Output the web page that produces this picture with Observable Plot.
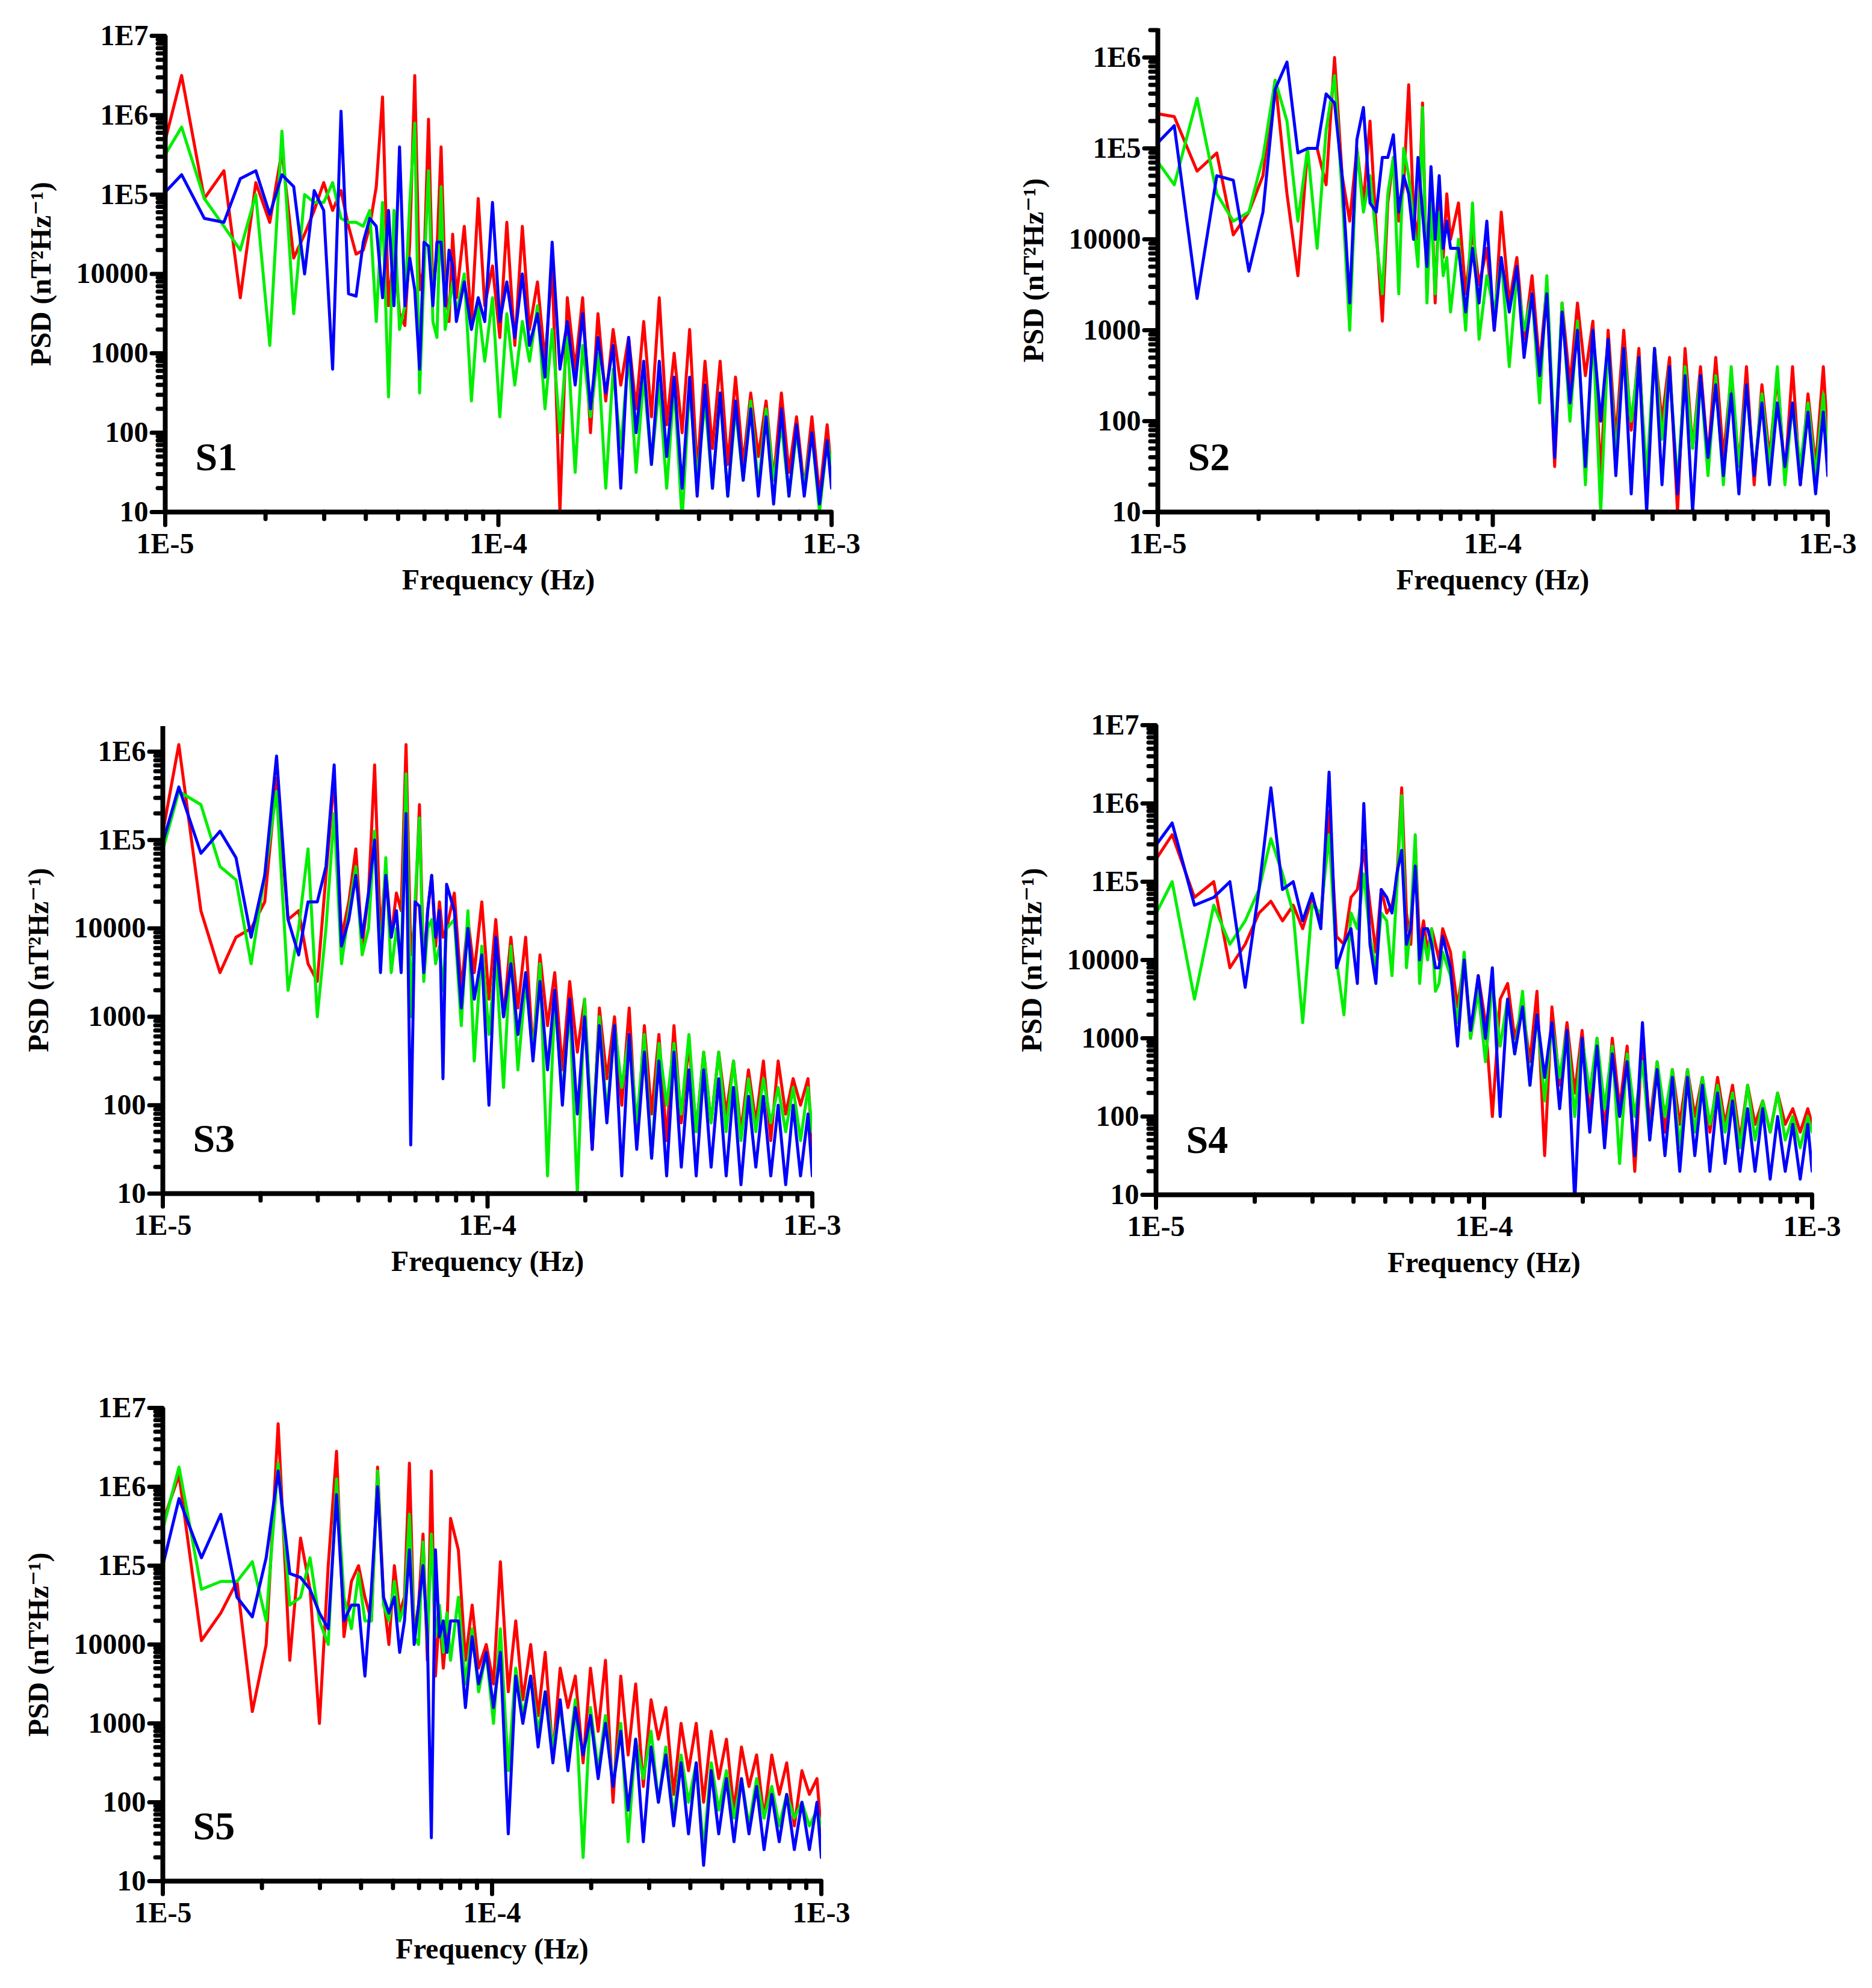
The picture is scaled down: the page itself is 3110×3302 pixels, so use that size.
<!DOCTYPE html>
<html><head><meta charset="utf-8">
<script src="https://cdn.jsdelivr.net/npm/d3@7"></script>
<script src="https://cdn.jsdelivr.net/npm/@observablehq/plot@0.6"></script>
<style>
  body { margin: 0; background: #fff; }
  #wrap { position: relative; width: 3110px; height: 3302px; background: #fff; }
  #wrap svg { position: absolute; }
</style></head>
<body><div id="wrap"></div>
<script>
"use strict";
// frequencies, units of 1e-5 Hz
const FREQ = [0.935,1.12,1.31,1.50,1.68,1.87,2.06,2.24,2.43,2.62,2.80,2.99,3.18,3.37,3.55,3.74,3.93,4.11,4.30,4.49,4.68,4.86,5.05,5.24,5.42,5.61,5.80,5.98,6.17,6.36,6.54,6.73,6.92,7.11,7.29,7.48,
  7.9,8.3,8.7,9.1,9.6,10.1,10.6,11.2,11.8,12.4,13.1,13.8,14.5,15.3,16.1,17,17.9,18.9,19.9,21,22.1,23.3,24.6,25.9,27.3,28.8,30.4,32,33.7,35.6,37.5,39.5,41.7,43.9,46.3,48.8,51.5,54.3,57.2,60.3,63.6,67,70.7,74.5,78.5,82.8,87.3,92,97,100];

// log10 PSD values, [red, green, blue]
const S1_RED = [5.2,6.5,4.95,5.3,3.7,5.15,4.65,5.55,4.2,4.5,4.8,5.15,4.8,5.05,4.6,4.25,4.3,4.6,5.1,6.23,3.6,4.3,3.5,3.35,4.4,6.5,3.8,4.1,5.95,3.7,4.3,5.6,3.9,3.4,4.5,3.7,
  4.6,3.4,4.95,3.6,4.1,3.2,4.65,3.1,4.6,3.3,3.9,2.9,4.1,1.0,3.7,2.8,3.7,2.0,3.5,2.4,3.3,2.6,3.2,2.3,3.4,2.2,3.7,2.1,3.0,2.0,3.3,1.5,2.9,1.8,2.9,1.6,2.7,1.6,2.5,1.7,2.4,1.4,2.5,1.5,2.2,1.3,2.2,1.2,2.1,1.5];
const S1_GREEN = [5.3,5.85,4.95,4.6,4.3,5.0,3.1,5.8,3.5,5.0,4.9,4.9,5.15,4.7,4.65,4.65,4.6,4.8,3.4,4.9,2.45,4.8,3.3,3.6,4.9,5.9,2.5,4.0,5.3,3.4,3.2,5.1,3.3,3.6,3.9,3.5,
  4.0,2.4,3.6,2.9,3.7,2.2,3.5,2.6,3.4,2.9,3.6,2.3,3.3,2.0,3.2,1.5,3.1,2.2,3.0,1.3,2.8,1.8,3.0,1.5,2.7,1.6,2.6,1.3,2.6,0.9,2.6,1.4,2.4,1.3,2.5,1.2,2.3,1.4,2.4,1.3,2.3,1.4,2.1,1.2,2.0,1.3,2.0,1.0,1.9,1.6];
const S1_BLUE = [4.9,5.25,4.7,4.65,5.2,5.3,4.75,5.25,5.1,4.0,5.05,4.8,2.8,6.05,3.75,3.72,4.4,4.7,4.6,3.7,4.8,3.6,5.6,3.6,4.2,3.8,2.8,4.4,4.35,3.6,4.4,4.4,3.6,4.3,4.1,3.4,
  3.9,3.3,3.7,3.4,4.9,3.4,3.9,3.2,4.0,3.1,3.5,2.7,4.4,2.8,3.4,2.6,3.5,2.3,3.2,2.5,3.1,1.3,3.2,2.0,2.9,1.6,2.9,1.7,2.7,1.3,2.7,1.2,2.6,1.3,2.5,1.2,2.4,1.4,2.3,1.2,2.2,1.1,2.3,1.2,2.1,1.2,2.0,1.1,1.9,1.3];

const S2_RED = [5.4,5.35,4.75,4.95,4.05,4.3,4.7,5.75,4.5,3.6,5.0,5.0,4.6,6.0,4.7,4.2,5.0,4.4,5.3,4.1,3.1,4.4,4.9,4.2,4.6,5.7,4.3,4.0,5.5,3.4,4.7,3.3,4.5,3.8,4.5,4.0,
  4.4,3.4,4.1,3.5,3.9,3.0,4.3,3.3,3.8,2.9,3.6,2.6,3.5,1.5,3.3,2.4,3.3,2.5,3.1,1.4,3.0,1.8,3.0,1.9,2.8,1.2,2.8,2.0,2.7,1.0,2.8,1.7,2.6,1.6,2.7,1.6,2.5,1.5,2.6,1.3,2.4,1.6,2.5,1.4,2.6,1.3,2.3,1.5,2.6,1.8];
const S2_GREEN = [5.0,4.6,5.55,4.5,4.2,4.3,4.9,5.75,5.3,4.2,5.0,3.9,5.2,5.8,4.5,3.0,5.0,4.3,4.7,4.0,3.4,4.5,4.9,3.4,5.0,4.7,4.2,3.7,5.45,3.3,4.4,3.4,4.3,3.6,3.8,3.2,
  4.0,3.0,4.4,2.9,3.6,3.2,3.8,2.6,3.6,3.0,3.4,2.2,3.6,1.7,3.3,2.0,3.1,1.3,3.0,1.0,2.9,1.6,2.8,2.0,2.7,1.4,2.8,1.8,2.6,1.3,2.6,1.7,2.5,1.4,2.5,1.3,2.6,1.5,2.4,1.4,2.3,1.5,2.6,1.3,2.2,1.5,2.2,1.4,2.3,1.6];
const S2_BLUE = [4.95,5.25,3.35,4.7,4.65,3.65,4.3,5.65,5.95,4.95,5.0,5.0,5.6,5.5,4.7,3.3,5.1,5.45,4.4,4.3,4.9,4.9,5.15,4.3,4.7,4.5,4.0,4.9,4.3,3.7,4.8,4.0,4.7,3.9,4.2,3.9,
  3.9,3.2,3.9,3.3,4.2,3.0,3.8,3.2,3.7,2.7,3.4,2.5,3.4,1.6,3.2,2.2,3.0,1.5,3.0,2.0,2.9,1.4,2.8,1.2,2.7,1.0,2.8,1.3,2.6,1.2,2.5,1.0,2.5,1.6,2.4,1.4,2.3,1.2,2.4,1.4,2.2,1.3,2.2,1.5,2.2,1.3,2.1,1.2,2.1,1.4];

const S3_RED = [4.5,6.08,4.2,3.5,3.9,4.0,4.3,5.7,4.1,4.2,3.6,3.4,4.6,5.7,3.9,4.3,4.9,3.8,4.4,5.85,3.9,4.7,3.9,4.4,4.2,6.08,3.7,4.1,5.4,3.5,4.2,4.6,3.8,4.3,3.9,4.0,
  4.4,3.3,4.1,3.5,4.3,3.2,4.1,3.0,3.9,3.1,3.9,2.6,3.7,2.9,3.5,2.4,3.4,2.6,3.2,1.5,3.1,2.3,3.0,2.0,3.1,1.6,2.9,1.9,2.8,1.6,2.9,1.8,2.7,1.7,2.6,1.8,2.6,1.9,2.5,1.7,2.4,1.8,2.5,1.6,2.5,1.9,2.3,2.0,2.3,1.5];
const S3_GREEN = [4.5,5.55,5.4,4.7,4.55,3.6,4.6,5.55,3.3,4.0,4.9,3.0,4.0,5.3,3.6,4.2,4.7,3.7,4.0,5.1,3.6,4.8,3.5,4.0,3.6,5.75,3.0,4.3,5.25,3.4,4.0,4.1,3.6,3.8,3.3,4.0,
  4.1,2.9,4.2,2.5,3.8,2.8,3.7,2.2,3.8,2.4,3.4,2.6,3.6,1.2,3.2,2.1,3.1,1.0,3.2,1.6,3.0,1.9,2.9,2.2,2.8,1.8,2.8,1.4,2.7,2.0,2.7,1.9,2.8,1.7,2.6,1.8,2.6,1.7,2.5,1.6,2.3,1.7,2.3,1.8,2.2,1.7,2.2,1.6,2.2,1.7];
const S3_BLUE = [4.6,5.6,4.85,5.1,4.8,3.9,4.6,5.95,4.1,3.7,4.3,4.3,4.7,5.85,3.8,4.1,4.6,3.9,4.4,5.0,3.5,4.6,3.9,4.2,3.5,5.3,1.55,4.3,4.25,3.5,4.2,4.6,3.9,4.2,2.3,4.5,
  4.2,3.1,4.0,3.2,3.7,2.0,3.9,3.0,3.6,2.8,3.5,2.5,3.4,2.4,3.3,2.0,3.2,1.9,3.0,1.5,2.9,1.8,2.9,1.2,2.8,1.5,2.6,1.4,2.5,1.2,2.6,1.3,2.4,1.2,2.4,1.3,2.3,1.2,2.2,1.1,2.1,1.3,2.1,1.2,2.0,1.1,2.0,1.2,1.9,1.2];

const S4_RED = [5.1,5.6,4.8,5.0,3.9,4.2,4.6,4.75,4.5,4.7,4.4,4.8,4.5,5.9,4.3,4.2,4.8,4.9,5.4,4.7,4.1,4.9,4.6,4.7,5.0,6.2,4.6,4.2,5.5,4.2,4.5,4.1,4.4,4.2,4.0,4.4,
  4.1,3.4,4.0,3.0,3.8,3.2,2.0,3.5,3.7,3.0,3.4,2.7,3.6,1.5,3.4,2.4,3.2,2.3,3.1,2.0,3.0,1.8,3.0,2.1,2.9,1.3,3.0,1.9,2.7,1.8,2.6,1.9,2.6,2.0,2.5,1.8,2.5,1.9,2.4,1.7,2.4,1.9,2.2,1.8,2.3,1.9,2.1,1.8,2.1,1.9];
const S4_GREEN = [4.35,5.0,3.5,4.7,4.2,4.5,4.9,5.55,5.1,4.6,3.2,4.7,4.6,5.6,4.0,3.3,4.6,4.4,5.1,4.3,3.9,4.6,4.5,3.8,4.9,6.1,3.9,4.5,5.6,3.7,4.3,4.0,4.4,3.6,3.7,4.1,
  3.8,3.2,4.1,3.0,3.6,2.7,3.7,2.9,3.5,2.8,3.6,2.4,3.3,2.2,3.2,2.5,3.1,2.0,3.0,2.3,3.0,2.1,2.9,1.4,2.8,2.0,2.7,1.7,2.7,2.0,2.6,1.6,2.6,1.8,2.5,1.9,2.4,1.8,2.3,1.6,2.4,1.7,2.2,1.8,2.3,1.7,2.0,1.6,2.0,1.8];
const S4_BLUE = [5.3,5.75,4.7,4.8,5.0,3.65,4.9,6.2,4.9,5.0,4.5,4.85,4.4,6.4,3.9,4.2,4.4,3.7,6.0,4.2,3.7,4.9,4.8,4.6,5.1,5.4,4.2,4.4,5.2,4.0,4.4,4.4,4.2,3.9,3.9,4.3,
  3.9,2.9,4.0,3.1,3.8,3.0,3.9,2.0,3.5,2.8,3.4,2.4,3.3,2.5,3.2,2.1,3.1,0.9,3.0,1.8,2.9,1.6,2.8,2.0,2.7,1.5,3.2,1.7,2.6,1.5,2.5,1.3,2.5,1.5,2.4,1.3,2.3,1.4,2.2,1.3,2.1,1.3,2.1,1.2,2.0,1.3,1.9,1.2,1.9,1.3];

const S5_RED = [5.2,6.15,4.05,4.4,4.8,3.15,4.0,6.8,3.8,5.35,4.7,3.0,5.0,6.45,4.1,4.8,5.0,4.6,4.3,6.25,4.6,4.0,5.0,4.4,4.6,6.3,4.1,4.5,5.4,3.8,6.2,3.6,4.4,3.7,4.2,5.6,
  5.2,3.8,4.5,3.7,4.0,3.5,5.05,3.4,4.3,3.3,4.0,3.1,3.9,2.6,3.7,3.2,3.6,2.5,3.7,2.9,3.8,2.0,3.6,2.6,3.5,2.2,3.3,2.8,3.2,2.1,3.0,2.4,3.0,2.0,2.9,2.3,2.8,1.9,2.7,2.2,2.6,1.8,2.6,2.1,2.5,1.7,2.4,2.1,2.3,1.6];
const S5_GREEN = [5.0,6.25,4.7,4.8,4.8,5.05,4.3,6.3,4.5,4.6,5.1,4.3,4.0,6.1,4.6,4.2,4.9,4.3,4.3,6.2,4.5,4.3,4.8,4.3,4.5,5.65,4.1,4.0,5.3,4.0,5.4,4.1,4.5,3.9,4.4,3.8,
  4.6,3.5,4.2,3.4,3.9,3.0,4.2,2.4,3.7,3.1,3.6,2.9,3.4,2.7,3.2,2.5,3.3,1.3,3.2,2.4,3.1,2.2,3.0,1.5,2.8,2.3,2.9,2.0,2.7,1.8,2.6,2.0,2.5,1.4,2.5,1.9,2.4,1.8,2.3,1.7,2.3,1.8,2.2,1.7,2.1,1.8,2.0,1.7,1.9,1.7];
const S5_BLUE = [4.5,5.85,5.1,5.65,4.6,4.35,5.1,6.2,4.9,4.85,4.7,4.4,4.2,5.9,4.3,4.5,4.5,3.6,4.7,6.0,4.6,4.4,4.6,3.9,4.3,5.2,4.0,4.5,5.0,4.1,1.55,5.2,4.1,4.3,3.9,4.3,
  4.3,3.2,4.1,3.5,3.9,3.2,3.9,1.6,3.6,3.0,3.6,2.7,3.4,2.5,3.3,2.4,3.2,2.6,3.1,2.3,3.0,2.2,2.9,1.9,2.8,1.5,2.7,2.0,2.6,1.7,2.5,1.6,2.5,1.2,2.4,1.6,2.3,1.5,2.3,1.6,2.2,1.4,2.1,1.5,2.1,1.4,2.0,1.4,2.0,1.3];

const Y_MAJOR = [10, 100, 1000, 10000, 1e5, 1e6, 1e7];
const X_MAJOR = [1e-5, 1e-4, 1e-3];
const COLORS = ["#ff0000", "#00ee00", "#0000ff"];

// panel placement: plot frame left/top/width/height in page px, y top value
const PANELS = [
  { name: "S1", series: [S1_RED, S1_GREEN, S1_BLUE], left: 274, top: 59, w: 1107, h: 791, yTop: 1e7 },
  { name: "S2", series: [S2_RED, S2_GREEN, S2_BLUE], left: 1923, top: 47, w: 1113, h: 803, yTop: 2.08e6 },
  { name: "S3", series: [S3_RED, S3_GREEN, S3_BLUE], left: 270, top: 1206, w: 1079, h: 776, yTop: 1.93e6 },
  { name: "S4", series: [S4_RED, S4_GREEN, S4_BLUE], left: 1920, top: 1204, w: 1090, h: 780, yTop: 1e7 },
  { name: "S5", series: [S5_RED, S5_GREEN, S5_BLUE], left: 270, top: 2338, w: 1094, h: 786, yTop: 1e7 },
];

const minors = (lo, hi) => {
  const out = [];
  for (let e = Math.floor(Math.log10(lo)); e < Math.ceil(Math.log10(hi)); e++)
    for (let m = 2; m <= 9; m++) { const v = m * 10 ** e; if (v > lo && v < hi) out.push(v); }
  return out;
};
const yFmt = (d) => d >= 1e5 ? "1E" + Math.round(Math.log10(d)) : String(d);
const xFmt = (d) => "1E" + Math.round(Math.log10(d));

const ML = 250, MB = 190, MT = 40, MR = 70;
const wrap = document.getElementById("wrap");

PANELS.forEach((p) => {
  const rows = [];
  p.series.forEach((vals, si) => vals.forEach((v, i) => rows.push({ f: FREQ[i] * 1e-5, psd: 10 ** v, s: si })));
  const yDom = [10, p.yTop];
  const svg = Plot.plot({
    width: p.w + ML + MR, height: p.h + MT + MB,
    marginLeft: ML, marginBottom: MB, marginTop: MT, marginRight: MR,
    style: { fontFamily: "'Liberation Serif', 'DejaVu Serif', serif", fontWeight: "bold", fontSize: "42px", color: "#000", background: "#fff" },
    x: { type: "log", domain: [1e-5, 1e-3] },
    y: { type: "log", domain: yDom },
    marks: [
      Plot.line(rows, { x: "f", y: "psd", z: "s", stroke: (d) => COLORS[d.s], strokeWidth: 5, clip: true }),
      Plot.axisX({ ticks: minors(1e-5, 1e-3), tickSize: 12, tickFormat: () => "", strokeWidth: 7, strokeLinecap: "round", label: null }),
      Plot.axisX({ ticks: X_MAJOR, tickSize: 22, tickFormat: xFmt, strokeWidth: 7, strokeLinecap: "round", tickPadding: 12,
        label: "Frequency (Hz)", labelAnchor: "center", labelArrow: "none", labelOffset: 128, fontSize: 48 }),
      Plot.axisY({ ticks: minors(10, p.yTop), tickSize: 12, tickFormat: () => "", strokeWidth: 7, strokeLinecap: "round", label: null }),
      Plot.axisY({ ticks: Y_MAJOR.filter((v) => v <= p.yTop), tickSize: 22, tickFormat: yFmt, strokeWidth: 7, strokeLinecap: "round", tickPadding: 6,
        label: "PSD (nT²Hz⁻¹)", labelAnchor: "center", labelArrow: "none", labelOffset: 225, fontSize: 48 }),
      Plot.ruleX([1e-5], { stroke: "#000", strokeWidth: 8 }),
      Plot.ruleY([10], { stroke: "#000", strokeWidth: 8 }),
      Plot.text([p.name], { frameAnchor: "bottom-left", dx: 50, dy: -70, fontSize: 66, fontWeight: "bold", fill: "#000", textAnchor: "start" }),
    ],
  });
  svg.style.left = (p.left - ML) + "px";
  svg.style.top = (p.top - MT) + "px";
  wrap.appendChild(svg);
});
</script></body></html>
